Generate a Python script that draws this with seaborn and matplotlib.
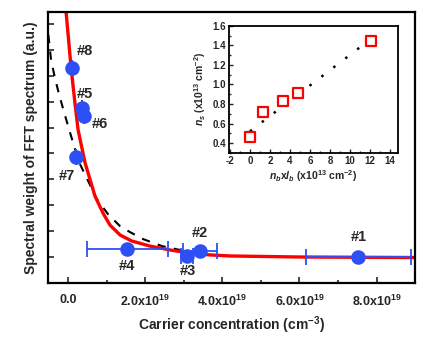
import numpy as np
import pandas as pd
import seaborn as sns
import matplotlib.pyplot as plt
from matplotlib.ticker import MultipleLocator

# main panel: sample points (x in units of 1e19 cm^-3, y in a.u.)
sample_ids = ['#1', '#2', '#3', '#4', '#5', '#6', '#7', '#8']
carrier = [7.53, 3.43, 3.09, 1.53, 0.36, 0.42, 0.21, 0.10]
weight = [1.00, 1.23, 1.04, 1.31, 6.75, 6.45, 4.88, 8.31]
carrier_err = [1.37, 0.44, 0.15, 1.05, 0.0, 0.0, 0.0, 0.0]
label_x = [7.53, 3.43, 3.12, 1.53, 0.44, 0.83, -0.03, 0.44]
label_y = [1.77, 1.92, 0.46, 0.65, 7.31, 6.15, 4.12, 8.96]

# red fit curve
red_x = [-0.05, 0.08, 0.17, 0.26, 0.44, 0.57, 0.70, 0.91, 1.09, 1.35, 1.65,
         2.13, 2.65, 3.17, 3.69, 4.21, 6.03, 9.01]
red_y = [10.46, 8.31, 7.08, 5.92, 4.65, 4.00, 3.35, 2.69, 2.23, 1.85, 1.62,
         1.42, 1.27, 1.15, 1.08, 1.04, 1.00, 0.98]

# black dashed curve
dash_x = [-0.51, -0.44, -0.34, -0.23, -0.10, 0.03, 0.16, 0.29, 0.44, 0.75,
          1.04, 1.35, 1.61, 1.95, 2.44, 2.91]
dash_y = [9.58, 8.62, 7.92, 7.27, 6.58, 5.92, 5.27, 4.65, 4.19, 3.23,
          2.65, 2.19, 1.96, 1.69, 1.42, 1.27]

xtick_vals = [0, 2, 4, 6, 8]
xtick_labels = ['0.0', r'2.0x10$^{\mathbf{19}}$', r'4.0x10$^{\mathbf{19}}$',
                r'6.0x10$^{\mathbf{19}}$', r'8.0x10$^{\mathbf{19}}$']

# inset: n_s vs n_b x l_b
inset_x = [0.0, 1.3, 3.3, 4.8, 12.1]
inset_y = [0.46, 0.72, 0.83, 0.91, 1.45]
inset_fit_x = [0.0, 11.3]
inset_fit_y = [0.52, 1.405]

sns.set_style('ticks')
plt.rcParams['font.family'] = ['Liberation Sans', 'DejaVu Sans']
plt.rcParams['font.weight'] = 'bold'
plt.rcParams['mathtext.fontset'] = 'custom'
plt.rcParams['mathtext.rm'] = 'Liberation Sans:bold'
plt.rcParams['mathtext.bf'] = 'Liberation Sans:bold'
plt.rcParams['mathtext.it'] = 'Liberation Sans:italic:bold'
plt.rcParams['axes.unicode_minus'] = False
plt.rcParams['xtick.direction'] = 'in'
plt.rcParams['ytick.direction'] = 'in'

blue = '#2d50f5'
fig = plt.figure(figsize=(4.36, 3.45), dpi=100)
ax = fig.add_axes([0.110, 0.180, 0.842, 0.785])

sns.lineplot(x=dash_x, y=dash_y, ax=ax, color='black', lw=1.5, sort=False,
             dashes=False, linestyle=(0, (4, 4)))
sns.lineplot(x=red_x, y=red_y, ax=ax, color='red', lw=2.4, sort=False,
             solid_joinstyle='round')

ax.errorbar(carrier, weight, xerr=carrier_err, fmt='none', ecolor=blue,
            elinewidth=1.3, capsize=6, capthick=1.3)
sns.scatterplot(x=carrier, y=weight, ax=ax, color=blue, s=110, edgecolor=blue,
                linewidth=0, zorder=5)
for sid, lx, ly in zip(sample_ids, label_x, label_y):
    ax.text(lx, ly, sid, ha='center', va='center', fontsize=10.5, fontweight='bold')

ax.set_xlim(-0.52, 9.0)
ax.set_ylim(0, 10.46)
ax.set_xticks(xtick_vals)
ax.set_xticklabels(xtick_labels, fontsize=9, fontweight='bold')
ax.xaxis.set_minor_locator(MultipleLocator(1))
ax.yaxis.set_major_locator(MultipleLocator(1))
ax.set_yticklabels([])
ax.tick_params(axis='both', which='both', length=4, width=1.2)
ax.tick_params(axis='x', which='both', pad=8)
ax.tick_params(axis='y', which='both', pad=1)
ax.tick_params(axis='x', which='minor', length=2.5)
ax.set_xlabel(r'Carrier concentration (cm$^{\mathbf{-3}}$)', fontsize=10, fontweight='bold', labelpad=4)
ax.set_ylabel('Spectral weight of FFT spectrum (a.u.)', fontsize=10, fontweight='bold', labelpad=6)
for sp in ax.spines.values():
    sp.set_linewidth(1.6)
    sp.set_color('black')

# inset
ins = fig.add_axes([0.525, 0.557, 0.388, 0.368])
sns.lineplot(x=inset_fit_x, y=inset_fit_y, ax=ins, color='black', lw=1.8,
             dashes=False, linestyle=(0, (1, 5)))
sns.scatterplot(x=inset_x, y=inset_y, ax=ins, marker='s', s=50, facecolor='white',
                edgecolor='red', linewidth=1.6, zorder=5)
ins.set_xlim(-2.1, 14.8)
ins.set_ylim(0.3, 1.6)
ins.xaxis.set_major_locator(MultipleLocator(2))
ins.xaxis.set_minor_locator(MultipleLocator(1))
ins.yaxis.set_major_locator(MultipleLocator(0.2))
ins.yaxis.set_minor_locator(MultipleLocator(0.1))
ins.tick_params(axis='both', which='major', length=3, width=1, labelsize=7, pad=2)
ins.tick_params(axis='both', which='minor', length=1.5, width=1)
ins.set_yticks(ins.get_yticks())
ins.set_yticklabels([f'{v:.1f}' for v in ins.get_yticks()])
ins.set_ylim(0.3, 1.6)
ins.set_xlabel(r'$n_b$x$l_b$ (x10$^{13}$ cm$^{-2}$)', fontsize=7.5, fontweight='bold', labelpad=2)
ins.set_ylabel(r'$n_s$ (x10$^{13}$ cm$^{-2}$)', fontsize=7.5, fontweight='bold', labelpad=3)
for sp in ins.spines.values():
    sp.set_linewidth(1.3)
    sp.set_color('black')

fig.savefig('out.png', dpi=100)
